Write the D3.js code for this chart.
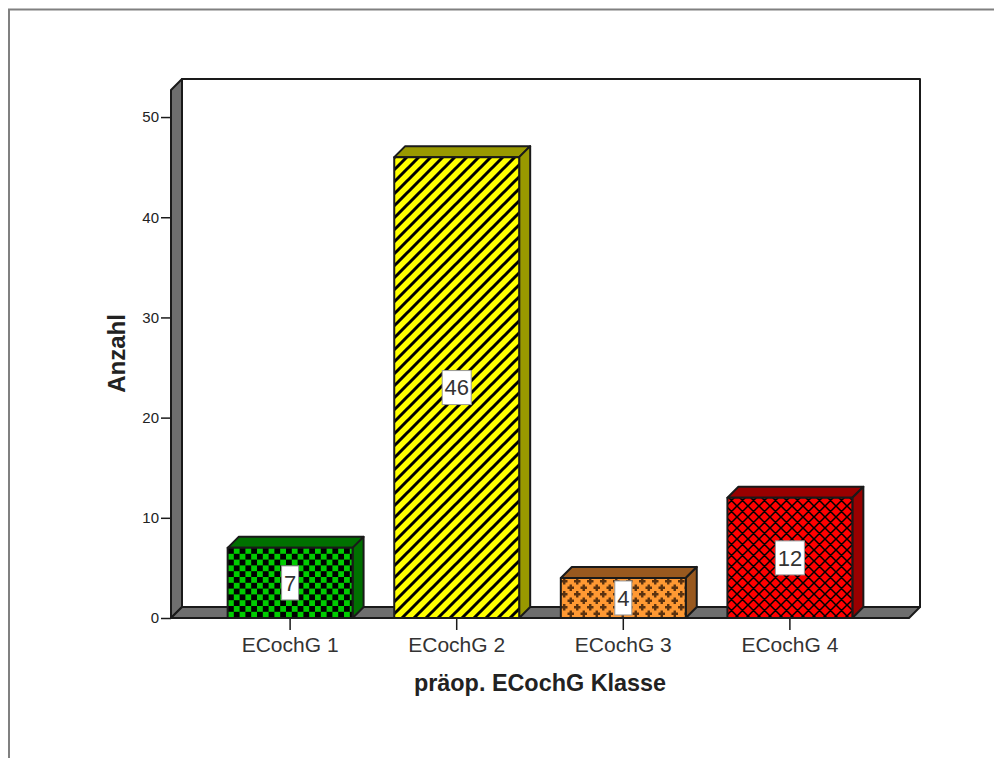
<!DOCTYPE html>
<html><head><meta charset="utf-8">
<script src="https://cdn.jsdelivr.net/npm/d3@7"></script>
<style>html,body{margin:0;padding:0;background:#fff}svg{display:block}text{font-family:"Liberation Sans",Arial,sans-serif}</style>
</head><body><div id="c"></div>
<script>
const categories=["ECochG 1","ECochG 2","ECochG 3","ECochG 4"];
const values=[7,46,4,12];
const yTicks=[0,10,20,30,40,50];
const fills=["#00cc00","#ffff00","#ff9933","#ff0000"];
const darks=["#007000","#999900","#99591f","#990000"];
const patternIds=["pGreen","pYellow","pOrange","pRed"];
const yTitle="Anzahl", xTitle="präop. ECochG Klasse";

const W=994,H=758,D=11;
const svg=d3.select("#c").append("svg").attr("width",W).attr("height",H);
const y=d3.scaleLinear().domain([0,52.7]).range([618,90]);
const x=d3.scaleBand().domain(categories).range([171,909]).paddingInner(0.25).paddingOuter(0.34);
const ink="#1a1a1a", wall="#6e6e6e";

// frame of the viewer window
svg.append("path").attr("d",`M9,${H}V9.5H${W}`).attr("fill","none").attr("stroke","#808080").attr("stroke-width",2);

// patterns
const defs=svg.append("defs");
const pG=defs.append("pattern").attr("id","pGreen").attr("patternUnits","userSpaceOnUse").attr("width",11.6).attr("height",11.6).attr("x",228).attr("y",548);
pG.append("rect").attr("width",11.6).attr("height",11.6).attr("fill",fills[0]);
pG.append("path").attr("d","M0,0h5.8v5.8h-5.8zM5.8,5.8h5.8v5.8h-5.8z").attr("fill","#000");
const pY=defs.append("pattern").attr("id","pYellow").attr("patternUnits","userSpaceOnUse").attr("width",12).attr("height",12);
pY.append("rect").attr("width",12).attr("height",12).attr("fill",fills[1]);
pY.append("path").attr("d","M-3,3L3,-3M-3,15L15,-3M9,15L15,9").attr("stroke","#000").attr("stroke-width",3);
const pO=defs.append("pattern").attr("id","pOrange").attr("patternUnits","userSpaceOnUse").attr("width",13).attr("height",13).attr("x",561).attr("y",578);
pO.append("rect").attr("width",13).attr("height",13).attr("fill",fills[2]);
pO.append("path").attr("d","M3.25,0v6.5M0,3.25h6.5M9.75,6.5v6.5M6.5,9.75h6.5").attr("stroke","#5a3210").attr("stroke-width",2.4);
const pR=defs.append("pattern").attr("id","pRed").attr("patternUnits","userSpaceOnUse").attr("width",11).attr("height",11);
pR.append("rect").attr("width",11).attr("height",11).attr("fill",fills[3]);
pR.append("path").attr("d","M-2,2L2,-2M-2,13L13,-2M9,13L13,9M-2,9L2,13M-2,-2L13,13M9,-2L13,2").attr("stroke","#000").attr("stroke-width",1.5);

// 3D walls
const g=svg.append("g").attr("stroke",ink).attr("stroke-width",2).attr("stroke-linejoin","round");
g.append("rect").attr("x",171+D).attr("y",y.range()[1]-D).attr("width",738).attr("height",y(0)-y.range()[1]).attr("fill","#fff");
g.append("path").attr("d",`M171,${y(0)}V90l${D},${-D}V${y(0)-D}Z`).attr("fill",wall);
g.append("path").attr("d",`M171,${y(0)}H909l${D},${-D}H${171+D}Z`).attr("fill",wall);

// axes
const yAxis=svg.append("g").attr("transform","translate(171,0)").call(d3.axisLeft(y).tickValues(yTicks).tickSize(10).tickPadding(2));
yAxis.select(".domain").remove();
yAxis.selectAll("line").attr("stroke",ink).attr("stroke-width",1.5);
yAxis.selectAll("text").attr("font-size",15).attr("fill","#222");
const xAxis=svg.append("g").attr("transform","translate(0,618)").call(d3.axisBottom(x).tickSize(12).tickPadding(7));
xAxis.select(".domain").remove();
xAxis.selectAll("line").attr("stroke",ink).attr("stroke-width",1.5);
xAxis.selectAll("text").attr("font-size",21).attr("fill","#333");

// bars
const bars=svg.selectAll("g.bar").data(categories.map((c,i)=>({c,v:values[i],i}))).join("g").attr("class","bar")
 .attr("stroke",ink).attr("stroke-width",2).attr("stroke-linejoin","round");
const bw=x.bandwidth();
bars.append("path").attr("d",d=>`M${x(d.c)},${y(d.v)}l${D},${-D}h${bw}l${-D},${D}Z`).attr("fill",d=>darks[d.i]);
bars.append("path").attr("d",d=>`M${x(d.c)+bw},${y(d.v)}l${D},${-D}V${y(0)-D}l${-D},${D}Z`).attr("fill",d=>darks[d.i]);
bars.append("rect").attr("x",d=>x(d.c)).attr("y",d=>y(d.v)).attr("width",bw).attr("height",d=>y(0)-y(d.v)).attr("fill",d=>`url(#${patternIds[d.i]})`);

// value labels
const lab=svg.selectAll("g.lab").data(categories.map((c,i)=>({c,v:values[i]}))).join("g").attr("class","lab")
 .attr("transform",d=>`translate(${x(d.c)+bw/2},${(y(d.v)+y(0))/2})`);
lab.append("text").attr("text-anchor","middle").attr("dy","0.36em").attr("font-size",22).attr("fill","#333").text(d=>d.v);
lab.insert("rect","text").attr("x",d=>-(String(d.v).length>1?29:17)/2).attr("y",-17).attr("width",d=>String(d.v).length>1?29:17).attr("height",34).attr("fill","#fff").attr("stroke","#999").attr("stroke-width",1);

// titles
svg.append("text").attr("x",540).attr("y",691).attr("text-anchor","middle").attr("font-size",23.4).attr("font-weight","bold").attr("fill","#222").text(xTitle);
svg.append("text").attr("transform","translate(125,353.5) rotate(-90)").attr("text-anchor","middle").attr("font-size",24).attr("font-weight","bold").attr("fill","#222").text(yTitle);
</script></body></html>
